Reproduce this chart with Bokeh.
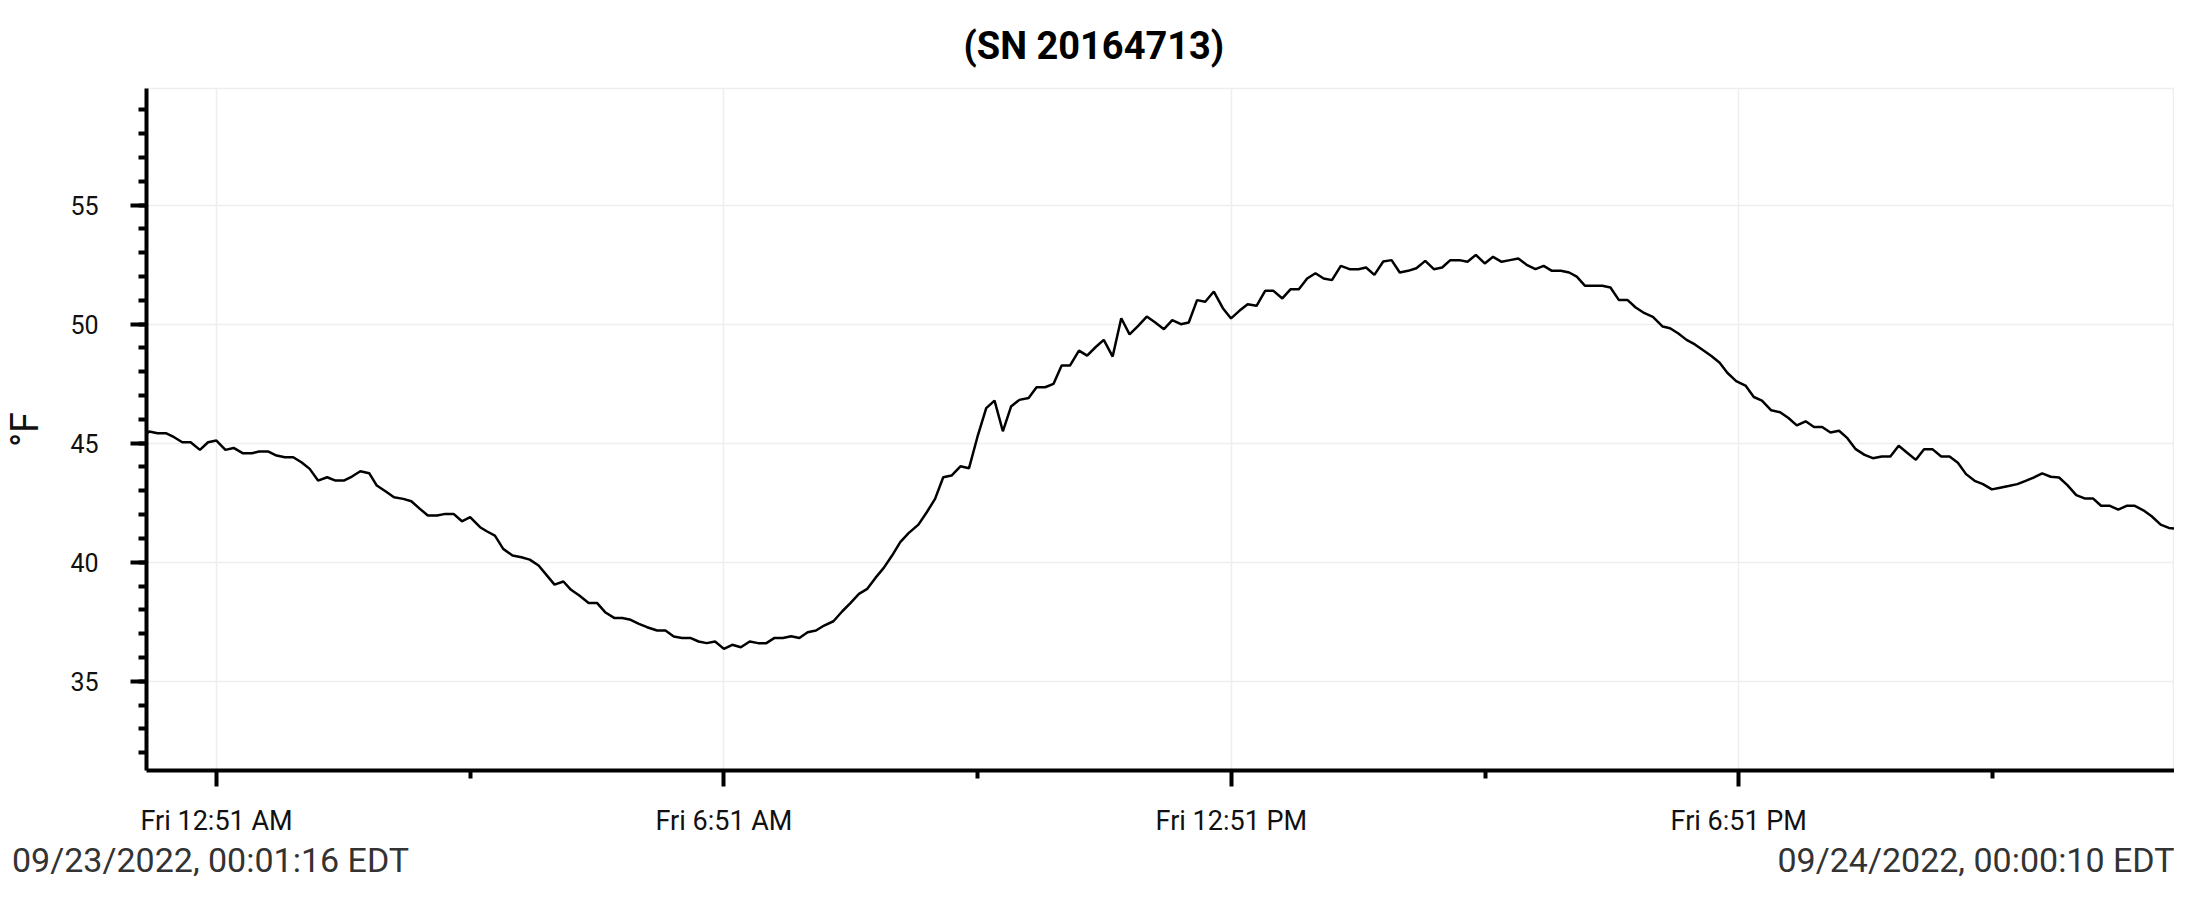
from datetime import datetime, timedelta

from bokeh.plotting import figure
from bokeh.models import Range1d, FixedTicker, LinearAxis
from bokeh.embed import file_html
from bokeh.resources import INLINE

# ---------------- data ----------------
title_text = "(SN 20164713)"
y_label = "°F"
start_text = "09/23/2022, 00:01:16 EDT"
end_text = "09/24/2022, 00:00:10 EDT"
start_time = "2022-09-23 00:01:16"
end_time = "2022-09-24 00:00:10"

# minutes after the first sample
minutes = [
    0.0, 2.0, 7.8, 13.7, 19.6, 25.4, 31.3, 37.9, 43.7, 49.6, 56.0, 61.8, 68.2, 74.8, 79.9,
    86.5, 92.3, 98.2, 104.1, 109.9, 115.8, 121.7, 128.2, 134.1, 140.0, 145.8, 151.7, 158.0,
    163.4, 169.8, 175.6, 182.2, 187.9, 194.0, 199.6, 206.2, 212.0, 217.9, 223.8, 229.6,
    236.7, 241.4, 247.2, 253.1, 259.7, 266.0, 271.9, 278.2, 283.6, 289.5, 295.8, 301.2,
    307.1, 313.7, 319.6, 325.4, 331.8, 337.6, 343.5, 349.4, 355.2,
    362.3, 368.2, 374.1, 379.9, 385.8, 391.7, 397.5, 403.4, 409.7, 415.6, 421.7, 428.0,
    433.9, 439.8, 445.6, 451.5, 457.4, 463.2, 469.1, 475.0, 480.8, 487.4, 493.7, 499.6,
    505.5, 511.4, 517.2, 523.1, 529.0, 534.8, 540.7, 547.7, 553.6, 559.5, 565.3, 571.2,
    577.5, 583.6, 589.5, 595.8, 601.7, 607.6, 613.4, 619.3, 625.9, 631.5, 637.6, 643.5,
    649.3, 655.2, 661.6, 667.4, 673.3, 679.2, 685.5, 691.6, 697.5, 703.8, 709.7, 715.5,
    721.9, 727.8, 733.9, 739.5, 745.4, 751.2, 757.3, 763.7, 769.5, 775.4, 781.3, 787.6,
    793.7, 799.6, 805.9, 811.8, 817.6, 823.5, 829.4, 835.2, 841.1, 847.4, 853.6, 859.9,
    865.3, 871.2, 877.5, 883.4, 889.2, 895.1, 901.0, 907.3, 913.4, 919.3, 925.1, 931.5,
    937.3, 943.2, 949.5, 955.4, 961.5, 967.4, 973.3, 979.6, 985.5, 991.3, 997.2, 1003.5,
    1009.4, 1014.8, 1020.7, 1026.5, 1032.9, 1038.7, 1044.6, 1050.7, 1056.6, 1062.9,
    1068.8, 1075.8,
    1081.0, 1086.9, 1092.7, 1098.6, 1104.5, 1110.3, 1116.2, 1121.6, 1127.9, 1134.5,
    1140.4, 1146.2, 1152.8, 1159.1, 1165.0, 1170.9, 1177.2, 1183.1, 1188.9, 1194.8,
    1200.9, 1206.8, 1212.7, 1219.0, 1224.9, 1231.2, 1237.3, 1243.2, 1249.0, 1255.4,
    1261.2, 1267.1, 1273.4, 1279.3, 1285.2, 1291.0, 1297.1, 1303.0, 1309.3, 1315.2,
    1321.1, 1327.4, 1333.3, 1339.2, 1345.0, 1351.1, 1357.0, 1362.9, 1369.2, 1375.1,
    1381.0, 1386.8, 1393.1, 1399.0, 1404.9, 1410.7, 1416.8, 1422.7, 1429.1, 1434.9, 1438.9,
]

temps_f = [
    45.39, 45.49, 45.42, 45.42, 45.25, 45.04, 45.04, 44.72, 45.04, 45.11, 44.72, 44.80, 44.58, 44.58, 44.65,
    44.65, 44.48, 44.41, 44.41, 44.20, 43.92, 43.43, 43.57, 43.43, 43.43, 43.60, 43.82, 43.74,
    43.22, 42.97, 42.73, 42.66, 42.56, 42.24, 41.96, 41.96, 42.03, 42.03, 41.72, 41.89,
    41.47, 41.30, 41.12, 40.56, 40.28, 40.21, 40.11, 39.86, 39.48, 39.06, 39.19, 38.84,
    38.60, 38.29, 38.29, 37.90, 37.66, 37.66, 37.58, 37.41, 37.27,
    37.13, 37.13, 36.88, 36.82, 36.82, 36.67, 36.60, 36.67, 36.36, 36.53, 36.43, 36.67,
    36.60, 36.60, 36.82, 36.82, 36.89, 36.82, 37.06, 37.13, 37.34, 37.52, 37.94, 38.29,
    38.67, 38.88, 39.34, 39.76, 40.28, 40.84, 41.22, 41.58, 42.10, 42.66, 43.57, 43.64,
    44.03, 43.95, 45.25, 46.47, 46.79, 45.50, 46.54, 46.82, 46.90, 47.35, 47.35, 47.49,
    48.26, 48.26, 48.89, 48.68, 49.03, 49.34, 48.64, 50.25, 49.57, 49.94, 50.32, 50.08,
    49.79, 50.17, 50.00, 50.07, 51.01, 50.94, 51.37, 50.67, 50.24, 50.56, 50.84, 50.77,
    51.40, 51.40, 51.08, 51.47, 51.47, 51.92, 52.14, 51.92, 51.85, 52.45, 52.31, 52.31,
    52.38, 52.07, 52.63, 52.69, 52.17, 52.24, 52.35, 52.66, 52.31, 52.38, 52.69, 52.69,
    52.62, 52.91, 52.55, 52.83, 52.62, 52.69, 52.76, 52.48, 52.31, 52.45, 52.24, 52.24,
    52.17, 52.00, 51.61, 51.61, 51.61, 51.54, 51.02, 51.02, 50.70, 50.46,
    50.31, 49.90,
    49.83, 49.61, 49.34, 49.15, 48.90, 48.66, 48.38, 47.96, 47.61, 47.42,
    46.94, 46.79, 46.38, 46.30, 46.06, 45.75, 45.92, 45.68, 45.68, 45.45,
    45.52, 45.21, 44.75, 44.51, 44.37, 44.44, 44.44, 44.89, 44.61, 44.30,
    44.75, 44.75, 44.44, 44.44, 44.18, 43.70, 43.42, 43.28, 43.06, 43.13,
    43.20, 43.28, 43.42, 43.56, 43.73, 43.59, 43.56, 43.24, 42.82, 42.68,
    42.68, 42.37, 42.37, 42.21, 42.37, 42.37, 42.18, 41.93, 41.58, 41.44, 41.41,
]

x_tick_times = ["2022-09-23 00:51:00", "2022-09-23 06:51:00", "2022-09-23 12:51:00", "2022-09-23 18:51:00"]
x_minor_times = ["2022-09-23 03:51:00", "2022-09-23 09:51:00", "2022-09-23 15:51:00", "2022-09-23 21:51:00"]
x_tick_labels = ["Fri 12:51 AM", "Fri 6:51 AM", "Fri 12:51 PM", "Fri 6:51 PM"]
y_major_ticks = [35, 40, 45, 50, 55]
y_minor_ticks = list(range(32, 60))
y_min, y_max = 31.25, 59.9

# ---------------- build ----------------
FMT = "%Y-%m-%d %H:%M:%S"
EPOCH = datetime(1970, 1, 1)


def ms(s):
    return (datetime.strptime(s, FMT) - EPOCH).total_seconds() * 1000.0


t0 = datetime.strptime(start_time, FMT)
times = [t0 + timedelta(minutes=m) for m in minutes]

W, H = 2174, 882
F_LEFT, F_TOP, F_BOTTOM = 146, 88, 770
F_RIGHT = W
FONT = "Roboto"
X0, X1 = ms(start_time), ms(end_time)


def px_x(px):
    """canvas pixel column -> data x (used to centre the footer stamps)"""
    return float(round(X0 + (px - F_LEFT) * (X1 - X0) / (F_RIGHT - F_LEFT)))


p = figure(
    width=W, height=H, output_backend="svg", toolbar_location=None,
    x_axis_type="datetime",
    x_range=Range1d(X0, X1),
    y_range=Range1d(y_min, y_max),
    min_border_left=F_LEFT, min_border_right=0, min_border_top=F_TOP,
    min_border_bottom=H - F_BOTTOM,
    background_fill_color="white", border_fill_color="white",
    outline_line_color="#eeeeee", outline_line_width=1.5,
)

# title, centred on the page (left-aligned with an offset from the frame edge)
p.title.text = title_text
p.title.align = "left"
p.title.offset = 963 - F_LEFT
p.title.text_font = FONT
p.title.text_font_size = "38px"
p.title.text_font_style = "bold"
p.title.text_color = "black"
p.title.standoff = 42

p.line(times, temps_f, line_color="black", line_width=2.5)

# axes
xa = p.xaxis[0]
xa.ticker = FixedTicker(ticks=[ms(t) for t in x_tick_times],
                        minor_ticks=[ms(t) for t in x_minor_times])
xa.major_label_overrides = {ms(t): lab for t, lab in zip(x_tick_times, x_tick_labels)}
xa.axis_label_standoff = 0
ya = p.yaxis[0]
ya.ticker = FixedTicker(ticks=y_major_ticks, minor_ticks=y_minor_ticks)
ya.axis_label = y_label

for ax in (xa, ya):
    ax.axis_line_color = "black"
    ax.axis_line_width = 4
    ax.major_tick_line_color = "black"
    ax.major_tick_line_width = 4
    ax.minor_tick_line_color = "black"
    ax.minor_tick_line_width = 4
    ax.major_tick_in = 0
    ax.minor_tick_in = 0
    ax.major_tick_out = 16
    ax.minor_tick_out = 8
    ax.major_label_text_font = FONT
    ax.major_label_text_color = "#111111"

xa.major_label_text_font_size = "27px"
xa.major_label_standoff = 18
ya.major_label_text_font_size = "25px"
ya.major_label_standoff = 32
ya.axis_label_text_font = FONT
ya.axis_label_text_font_size = "38px"
ya.axis_label_text_font_style = "normal"
ya.axis_label_text_color = "#111111"
ya.axis_label_standoff = 20

# footer stamps (first / last sample time) as a second, bare axis below
footer_pos = [px_x(210), px_x(1976)]
fa = LinearAxis(ticker=FixedTicker(ticks=footer_pos, minor_ticks=[]),
                major_label_overrides={footer_pos[0]: start_text, footer_pos[1]: end_text},
                axis_line_alpha=0, major_tick_line_alpha=0, minor_tick_line_alpha=0,
                major_tick_in=0, major_tick_out=0, minor_tick_in=0, minor_tick_out=0,
                major_label_standoff=0, axis_label_standoff=0,
                major_label_text_font=FONT, major_label_text_font_size="34px",
                major_label_text_color="#333333")
p.add_layout(fa, "below")

p.xgrid.grid_line_color = "#eeeeee"
p.xgrid.grid_line_width = 1.5
p.ygrid.grid_line_color = "#eeeeee"
p.ygrid.grid_line_width = 1.5

open("out.html", "w").write(file_html(p, INLINE))
